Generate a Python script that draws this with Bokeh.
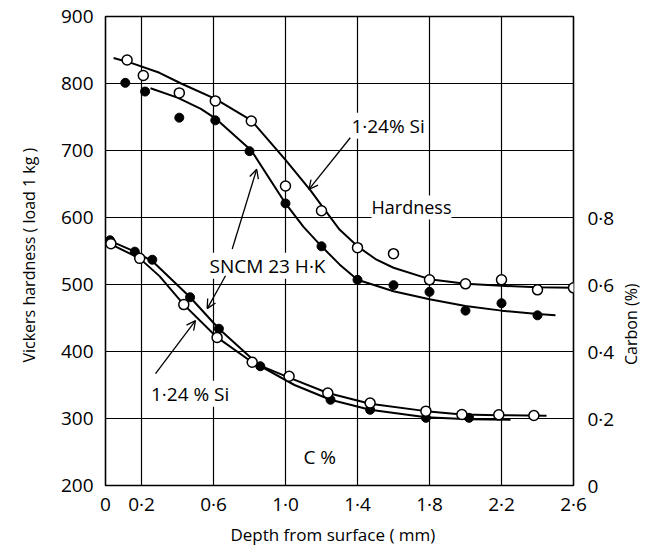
from math import pi
from bokeh.plotting import figure
from bokeh.models import Range1d, LinearAxis, FixedTicker, Label, Arrow, OpenHead
from bokeh.embed import file_html
from bokeh.resources import INLINE

FONT = "Open Sans"

# ---- axes / ticks ----
X_MIN, X_MAX = 0, 2.6
Y_MIN, Y_MAX = 200, 900
x_ticks = [0, 0.2, 0.6, 1.0, 1.4, 1.8, 2.2, 2.6]
x_tick_labels = ["0", "0·2", "0·6", "1·0", "1·4", "1·8", "2·2", "2·6"]
x_grid = [0.2, 0.6, 1.0, 1.4, 1.8, 2.2]
y_ticks = [200, 300, 400, 500, 600, 700, 800, 900]
y_grid = [300, 400, 500, 600, 700, 800]
c_ticks = [0, 0.2, 0.4, 0.6, 0.8]
c_tick_labels = ["0", "0·2", "0·4", "0·6", "0·8"]

# ---- hardness, 1.24 % Si (open circles) ----
si_h_depth = [0.12, 0.21, 0.41, 0.61, 0.81, 1.0, 1.2, 1.4, 1.6, 1.8, 2.0, 2.2, 2.4, 2.6]
si_h_val = [835, 812, 786, 774, 744, 647, 610, 555, 546, 507, 501, 507, 492, 495]
si_h_curve_depth = [0.045, 0.15, 0.3, 0.42, 0.61, 0.81, 1.0, 1.14, 1.2, 1.3, 1.4, 1.5, 1.6, 1.8, 2.0, 2.2, 2.4, 2.6]
si_h_curve_val = [838, 830, 816, 800, 777, 745, 686, 640, 618, 582, 557, 538, 525, 508, 501, 498, 496, 495]

# ---- hardness, SNCM 23 H.K (filled circles) ----
sn_h_depth = [0.11, 0.22, 0.41, 0.61, 0.80, 1.0, 1.2, 1.4, 1.6, 1.8, 2.0, 2.2, 2.4]
sn_h_val = [801, 788, 749, 745, 699, 621, 557, 507, 499, 489, 461, 472, 454]
sn_h_curve_depth = [0.25, 0.4, 0.53, 0.61, 0.81, 1.0, 1.1, 1.2, 1.3, 1.4, 1.6, 1.8, 2.0, 2.2, 2.4, 2.5]
sn_h_curve_val = [793, 779, 762, 748, 700, 621, 586, 557, 530, 507, 490, 478, 468, 461, 456, 454]

# ---- carbon %, 1.24 % Si (open circles) ----
si_c_depth = [0.03, 0.19, 0.435, 0.62, 0.815, 1.02, 1.235, 1.47, 1.78, 1.98, 2.185, 2.38]
si_c_val = [0.722, 0.678, 0.540, 0.442, 0.368, 0.326, 0.276, 0.246, 0.222, 0.212, 0.211, 0.209]
si_c_curve_depth = [0.0, 0.19, 0.3, 0.435, 0.62, 0.815, 1.02, 1.235, 1.47, 1.78, 1.98, 2.185, 2.45]
si_c_curve_val = [0.728, 0.678, 0.625, 0.540, 0.442, 0.368, 0.322, 0.276, 0.244, 0.222, 0.212, 0.210, 0.208]

# ---- carbon %, SNCM 23 H.K (filled circles) ----
sn_c_depth = [0.025, 0.163, 0.26, 0.47, 0.63, 0.86, 1.25, 1.47, 1.78, 2.02]
sn_c_val = [0.732, 0.698, 0.674, 0.562, 0.468, 0.356, 0.256, 0.226, 0.202, 0.202]
sn_c_curve_depth = [0.0, 0.163, 0.26, 0.47, 0.63, 0.86, 1.05, 1.25, 1.47, 1.78, 2.02, 2.25]
sn_c_curve_val = [0.736, 0.698, 0.670, 0.562, 0.468, 0.356, 0.300, 0.256, 0.226, 0.204, 0.198, 0.196]

p = figure(width=668, height=552,
           x_range=Range1d(X_MIN, X_MAX), y_range=Range1d(Y_MIN, Y_MAX),
           output_backend="svg", toolbar_location=None,
           min_border_left=105, min_border_right=95,
           min_border_top=16, min_border_bottom=67)
p.extra_y_ranges = {"c": Range1d(0, 1.4)}
p.background_fill_color = "white"
p.border_fill_color = "white"
p.outline_line_color = "black"
p.outline_line_width = 1.6
p.xgrid.visible = False
p.ygrid.visible = False

# grid lines at the grid ticks, drawn first so that marks sit on top
p.multi_line(xs=[[g, g] for g in x_grid], ys=[[Y_MIN, Y_MAX] for _ in x_grid],
             line_color="#000000", line_width=1.2)
p.multi_line(xs=[[X_MIN, X_MAX] for _ in y_grid], ys=[[g, g] for g in y_grid],
             line_color="#000000", line_width=1.2)

def style_axis(ax, standoff):
    ax.axis_line_color = None
    ax.major_tick_line_color = None
    ax.minor_tick_line_color = None
    ax.major_tick_out = 0
    ax.major_tick_in = 0
    ax.major_label_text_font = FONT
    ax.major_label_text_font_size = "19px"
    ax.major_label_text_color = "black"
    ax.major_label_standoff = standoff
    ax.axis_label_text_font = FONT
    ax.axis_label_text_font_size = "16px"
    ax.axis_label_text_font_style = "normal"
    ax.axis_label_text_color = "black"

xa = p.xaxis[0]
xa.ticker = FixedTicker(ticks=x_ticks)
xa.major_label_overrides = {t: s for t, s in zip(x_ticks, x_tick_labels)}
xa.axis_label = "Depth from surface    ( mm)"
style_axis(xa, 5)
xa.axis_label_text_font_size = "17px"
xa.axis_label_standoff = 3

ya = p.yaxis[0]
ya.ticker = FixedTicker(ticks=y_ticks)
ya.axis_label = "Vickers hardness  ( load  1 kg )"
style_axis(ya, 12)
ya.axis_label_standoff = 18

ca = LinearAxis(y_range_name="c", ticker=FixedTicker(ticks=c_ticks))
ca.major_label_overrides = {t: s for t, s in zip(c_ticks, c_tick_labels)}
ca.axis_label = "\u00a0" * 29 + "Carbon  (%)"
ca.axis_label_orientation = pi / 2
ca.axis_label_align = "start"
style_axis(ca, 14)
ca.axis_label_standoff = 14
p.add_layout(ca, "right")

# curves
LW = 2.0
p.line(si_h_curve_depth, si_h_curve_val, line_color="black", line_width=LW)
p.line(sn_h_curve_depth, sn_h_curve_val, line_color="black", line_width=LW)
p.line(si_c_curve_depth, si_c_curve_val, line_color="black", line_width=LW, y_range_name="c")
p.line(sn_c_curve_depth, sn_c_curve_val, line_color="black", line_width=LW, y_range_name="c")

# points
p.scatter(sn_h_depth, sn_h_val, marker="circle", size=9, fill_color="black", line_color="black")
p.scatter(si_h_depth, si_h_val, marker="circle", size=10, fill_color="white", line_color="black", line_width=1.5)
p.scatter(sn_c_depth, sn_c_val, marker="circle", size=9, fill_color="black", line_color="black", y_range_name="c")
p.scatter(si_c_depth, si_c_val, marker="circle", size=10, fill_color="white", line_color="black", line_width=1.5, y_range_name="c")

# text labels
def lab(x, y, t, size="19px"):
    L = Label(x=x, y=y, text=t, text_font=FONT, text_font_size=size,
              text_color="black", text_align="center", text_baseline="middle",
              background_fill_color="white")
    p.add_layout(L)

lab(1.57, 737, "1·24% Si")
lab(1.70, 615, "Hardness", "18px")
lab(0.90, 528, "SNCM 23 H·K")
lab(0.47, 337, "1·24 % Si")
lab(1.19, 242, "C %")

# arrows
def arr(x0, y0, x1, y1):
    p.add_layout(Arrow(x_start=x0, y_start=y0, x_end=x1, y_end=y1,
                       line_color="black", line_width=1.3,
                       end=OpenHead(size=9, line_width=1.3, line_color="black")))

arr(1.36, 719, 1.13, 642)
arr(0.704, 553, 0.84, 672)
arr(0.667, 513, 0.565, 464)
arr(0.278, 367, 0.50, 446)

open("out.html", "w").write(file_html(p, INLINE))
